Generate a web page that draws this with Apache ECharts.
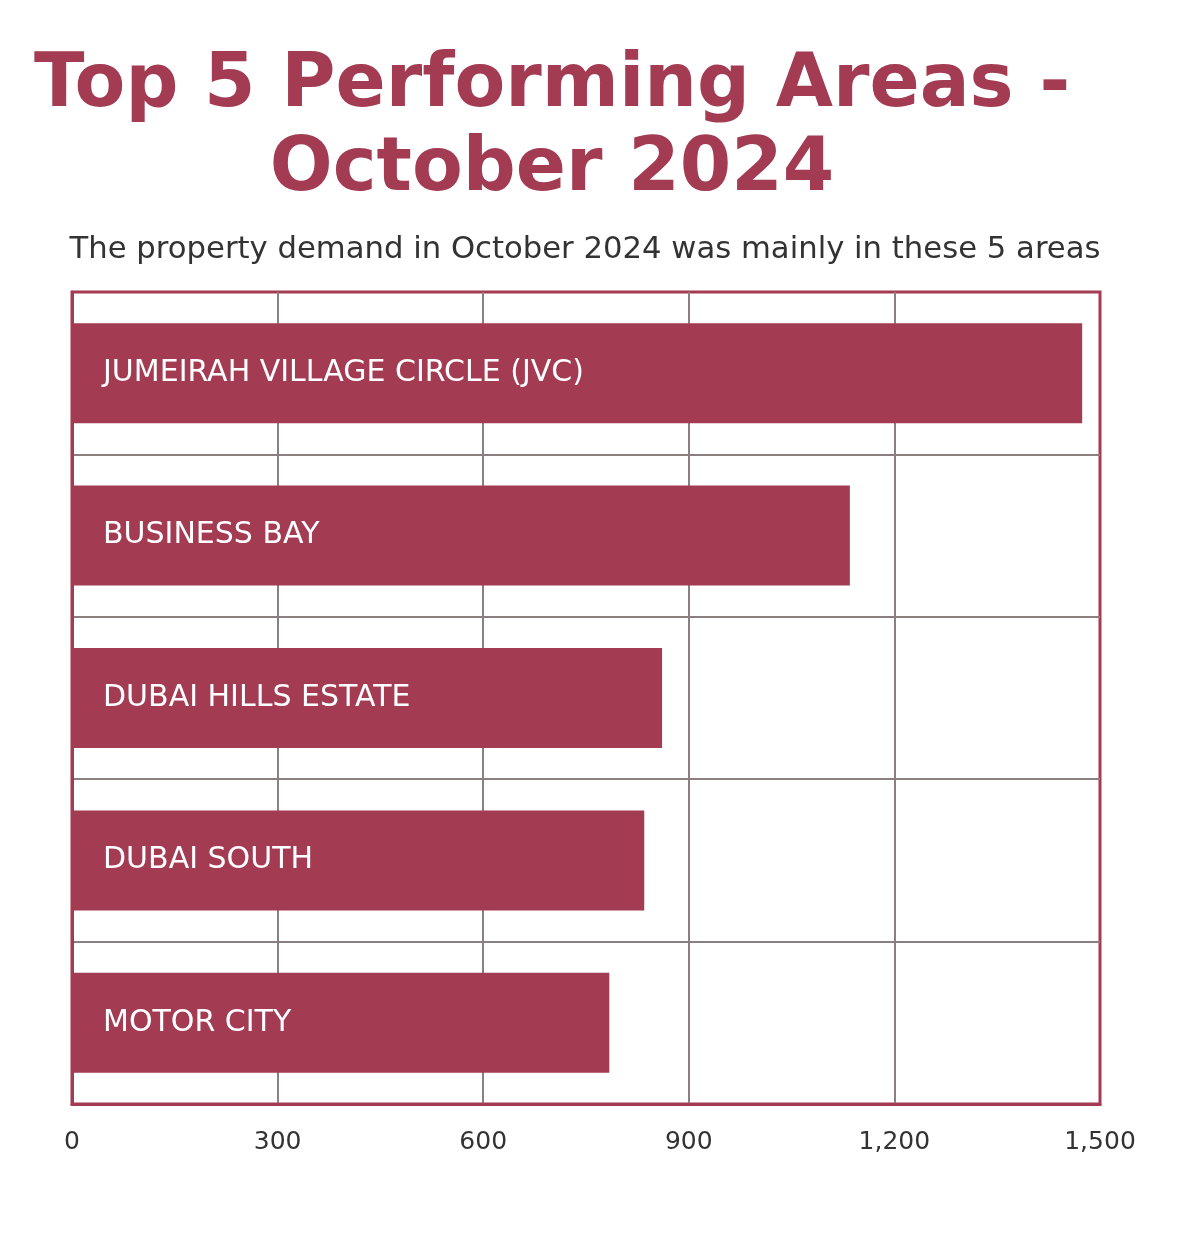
<!DOCTYPE html>
<html>
<head>
<meta charset="utf-8">
<script src="https://cdn.jsdelivr.net/npm/echarts@6/dist/echarts.min.js"></script>
<style>html,body{margin:0;padding:0;background:#fff;}#c{width:1185px;height:1233px;}</style>
</head>
<body>
<div id="c"></div>
<script>
const titleLines = ['Top 5 Performing Areas -', 'October 2024'];
const subtitle = 'The property demand in October 2024 was mainly in these 5 areas';
const categories = ['JUMEIRAH VILLAGE CIRCLE (JVC)', 'BUSINESS BAY', 'DUBAI HILLS ESTATE', 'DUBAI SOUTH', 'MOTOR CITY'];
const values = [1474, 1135, 861, 835, 784];
const axisMin = 0, axisMax = 1500, axisStep = 300;

const RED = '#a33b52';
const chart = echarts.init(document.getElementById('c'));
chart.setOption({
  backgroundColor: '#fff',
  title: [
    {
      text: titleLines.join('\n'),
      left: 547, top: 40, textAlign: 'center',
      textStyle: {fontFamily: 'DejaVu Sans', fontWeight: 'bold', fontSize: 74, lineHeight: 84, color: RED}
    },
    {
      text: subtitle,
      left: 580, top: 230, textAlign: 'center',
      textStyle: {fontFamily: 'DejaVu Sans', fontWeight: 'normal', fontSize: 30.7, color: '#333'}
    }
  ],
  grid: {left: 72, right: 85, top: 292, bottom: 129, containLabel: false,
         show: true, borderColor: RED, borderWidth: 3},
  xAxis: {
    type: 'value', min: axisMin, max: axisMax, interval: axisStep,
    axisLine: {show: true, lineStyle: {color: RED, width: 3}},
    axisTick: {show: false},
    axisLabel: {color: '#333', fontFamily: 'DejaVu Sans', fontSize: 25, margin: 26,
                formatter: v => v.toLocaleString('en-US')},
    splitLine: {show: true, showMinLine: false, showMaxLine: false, lineStyle: {color: '#8c7f80', width: 2}}
  },
  yAxis: {
    type: 'category', data: categories, inverse: true,
    axisLine: {show: true, lineStyle: {color: RED, width: 3}},
    axisTick: {show: false},
    axisLabel: {show: false},
    splitLine: {show: true, showMinLine: false, showMaxLine: false, lineStyle: {color: '#8c7f80', width: 2}}
  },
  series: [{
    type: 'bar', data: values, barWidth: 100,
    itemStyle: {color: RED},
    label: {show: true, position: 'insideLeft', distance: 31,
            formatter: p => p.name,
            color: '#fff', fontFamily: 'DejaVu Sans', fontSize: 30, fontWeight: 'normal'},
    z: 3
  }]
});
</script>
</body>
</html>
